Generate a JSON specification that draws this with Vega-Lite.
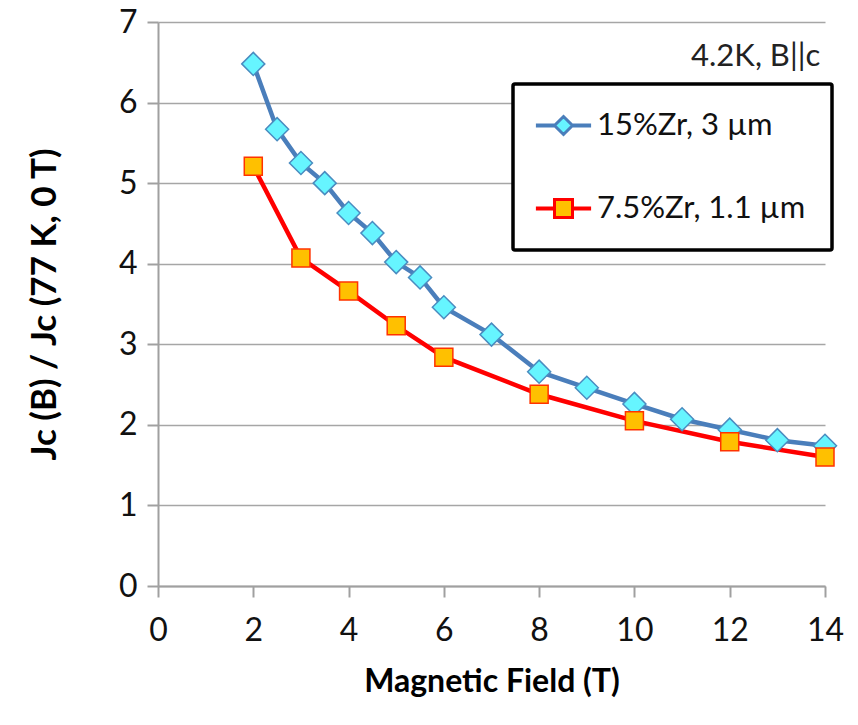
{
  "$schema": "https://vega.github.io/schema/vega-lite/v6.json",
  "width": 667,
  "height": 564,
  "autosize": {"type": "none"},
  "padding": {"left": 158, "top": 22, "right": 33, "bottom": 139},
  "background": "white",
  "config": {
    "font": "Lato",
    "view": {"stroke": null},
    "axis": {
      "labelFont": "Lato",
      "titleFont": "Lato",
      "labelColor": "#111111",
      "titleColor": "#000000",
      "domainColor": "#A0A0A0",
      "domainWidth": 2,
      "tickColor": "#A0A0A0",
      "tickWidth": 2,
      "gridColor": "#A6A6A6",
      "gridWidth": 1.5
    }
  },
  "datasets": {
    "curves": [
      {"series": "15%Zr, 3 µm", "B": 2, "ratio": 6.48},
      {"series": "15%Zr, 3 µm", "B": 2.5, "ratio": 5.67},
      {"series": "15%Zr, 3 µm", "B": 3, "ratio": 5.25},
      {"series": "15%Zr, 3 µm", "B": 3.5, "ratio": 5.0},
      {"series": "15%Zr, 3 µm", "B": 4, "ratio": 4.63},
      {"series": "15%Zr, 3 µm", "B": 4.5, "ratio": 4.38},
      {"series": "15%Zr, 3 µm", "B": 5, "ratio": 4.02},
      {"series": "15%Zr, 3 µm", "B": 5.5, "ratio": 3.83},
      {"series": "15%Zr, 3 µm", "B": 6, "ratio": 3.46},
      {"series": "15%Zr, 3 µm", "B": 7, "ratio": 3.12},
      {"series": "15%Zr, 3 µm", "B": 8, "ratio": 2.66},
      {"series": "15%Zr, 3 µm", "B": 9, "ratio": 2.46},
      {"series": "15%Zr, 3 µm", "B": 10, "ratio": 2.26},
      {"series": "15%Zr, 3 µm", "B": 11, "ratio": 2.07},
      {"series": "15%Zr, 3 µm", "B": 12, "ratio": 1.94},
      {"series": "15%Zr, 3 µm", "B": 13, "ratio": 1.81},
      {"series": "15%Zr, 3 µm", "B": 14, "ratio": 1.74},
      {"series": "7.5%Zr, 1.1 µm", "B": 2, "ratio": 5.21},
      {"series": "7.5%Zr, 1.1 µm", "B": 3, "ratio": 4.07},
      {"series": "7.5%Zr, 1.1 µm", "B": 4, "ratio": 3.66},
      {"series": "7.5%Zr, 1.1 µm", "B": 5, "ratio": 3.23},
      {"series": "7.5%Zr, 1.1 µm", "B": 6, "ratio": 2.84},
      {"series": "7.5%Zr, 1.1 µm", "B": 8, "ratio": 2.38},
      {"series": "7.5%Zr, 1.1 µm", "B": 10, "ratio": 2.05},
      {"series": "7.5%Zr, 1.1 µm", "B": 12, "ratio": 1.79},
      {"series": "7.5%Zr, 1.1 µm", "B": 14, "ratio": 1.6}
    ],
    "note": [{"B": 13.9, "ratio": 6.57, "label": "4.2K, B||c"}]
  },
  "layer": [
    {
      "data": {"name": "curves"},
      "mark": {"type": "line", "strokeWidth": 4.5},
      "encoding": {
        "x": {
          "field": "B", "type": "quantitative",
          "scale": {"domain": [0, 14], "nice": false, "zero": false},
          "axis": {
            "title": "Magnetic Field (T)",
            "titleFontSize": 32, "titleFontWeight": "bold", "titlePadding": 20,
            "values": [0, 2, 4, 6, 8, 10, 12, 14],
            "labelFontSize": 32, "labelPadding": 18, "labelFlush": false,
            "tickSize": 11, "grid": false
          }
        },
        "y": {
          "field": "ratio", "type": "quantitative",
          "scale": {"domain": [0, 7], "nice": false},
          "axis": {
            "title": "Jc (B) / Jc (77 K, 0 T)",
            "titleFontSize": 35, "titleFontWeight": "bold", "titlePadding": 56,
            "values": [0, 1, 2, 3, 4, 5, 6, 7],
            "format": "d",
            "labelFontSize": 32, "labelPadding": 10,
            "tickSize": 11, "grid": true
          }
        },
        "color": {
          "field": "series", "type": "nominal",
          "scale": {"domain": ["15%Zr, 3 µm", "7.5%Zr, 1.1 µm"], "range": ["#4A7EBB", "#FF0000"]},
          "legend": {
            "title": null,
            "orient": "none",
            "legendX": 355,
            "legendY": 62,
            "direction": "vertical",
            "strokeColor": "#000000",
            "cornerRadius": 2,
            "fillColor": "white",
            "padding": 26,
            "rowPadding": 51,
            "labelFont": "Lato",
            "labelFontSize": 31,
            "labelColor": "#111111",
            "labelLimit": 500,
            "symbolSize": 324,
            "symbolStrokeWidth": 3,
            "symbolOffset": 9,
            "labelOffset": 18,
            "encode": {
              "legend": {"update": {"strokeWidth": {"value": 3.5}}},
              "symbols": {
                "update": {
                  "shape": {"signal": "datum.index === 0 ? 'M-2.9,-0.06L-1,-0.06L-1,0.06L-2.9,0.06ZM1,-0.06L2.9,-0.06L2.9,0.06L1,0.06ZM0,-1L1,0L0,1L-1,0Z' : 'M-2.9,-0.06L-1,-0.06L-1,0.06L-2.9,0.06ZM1,-0.06L2.9,-0.06L2.9,0.06L1,0.06ZM-1,-1L1,-1L1,1L-1,1Z'"},
                  "fill": {"signal": "datum.index === 0 ? '#66F5FF' : '#FFC000'"},
                  "fillOpacity": {"value": 1},
                  "opacity": {"value": 1}
                }
              }
            }
          }
        }
      }
    },
    {
      "data": {"name": "curves"},
      "transform": [{"filter": {"field": "series", "equal": "15%Zr, 3 µm"}}],
      "mark": {"type": "point", "shape": "diamond", "filled": true, "fill": "#66F5FF", "stroke": "#4A8CC0", "strokeWidth": 1.5, "size": 530, "opacity": 1},
      "encoding": {
        "x": {"field": "B", "type": "quantitative"},
        "y": {"field": "ratio", "type": "quantitative"}
      }
    },
    {
      "data": {"name": "curves"},
      "transform": [{"filter": {"field": "series", "equal": "7.5%Zr, 1.1 µm"}}],
      "mark": {"type": "point", "shape": "square", "filled": true, "fill": "#FFC000", "stroke": "#FF3300", "strokeWidth": 1.5, "size": 324, "opacity": 1},
      "encoding": {
        "x": {"field": "B", "type": "quantitative"},
        "y": {"field": "ratio", "type": "quantitative"}
      }
    },
    {
      "data": {"name": "note"},
      "mark": {"type": "text", "align": "right", "baseline": "middle", "fontSize": 31, "font": "Lato", "color": "#222222"},
      "encoding": {
        "x": {"field": "B", "type": "quantitative"},
        "y": {"field": "ratio", "type": "quantitative"},
        "text": {"field": "label"}
      }
    }
  ]
}
